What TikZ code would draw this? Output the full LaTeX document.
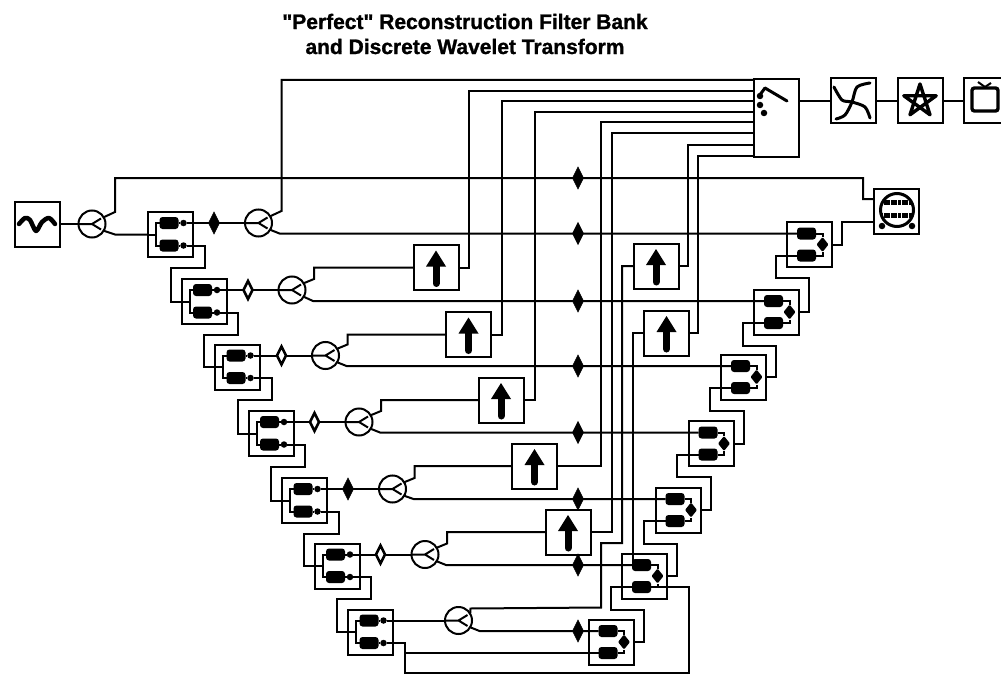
\documentclass[tikz,border=0pt]{standalone}
\usepackage{fontspec}
\newfontfamily\titlefont[BoldFeatures={FakeBold=1.2}]{Liberation Sans}
\usetikzlibrary{shapes.geometric, positioning, calc}
\tikzset{
  blockbox/.style={
    rectangle, draw=black, line width=2pt,
    minimum size=45pt, inner sep=0pt, outer sep=0pt,
  },
  muxbox/.style={
    blockbox, minimum width=45pt, minimum height=78pt,
  },
  forkcircle/.style={
    circle, draw=black, line width=2pt, fill=white,
    minimum size=27pt, inner sep=0pt, outer sep=0pt,
  },
  pill/.style={
    rectangle, rounded corners=3pt, fill=black,
    minimum width=19pt, minimum height=12pt, inner sep=0pt, outer sep=0pt,
  },
  smalldot/.style={
    circle, fill=black, minimum size=6.5pt, inner sep=0pt, outer sep=0pt,
  },
  delayfill/.style={
    diamond, fill=black, draw=black, line width=0.5pt, aspect=0.5,
    minimum width=11pt, minimum height=22pt, inner sep=0pt, outer sep=0pt,
  },
  delayopen/.style={
    delayfill, fill=white, line width=2.6pt,
    minimum width=9pt, minimum height=18pt,
  },
  sumdot/.style={
    diamond, fill=black, rounded corners=1pt, aspect=0.8,
    minimum width=12pt, minimum height=15pt, inner sep=0pt, outer sep=0pt,
  },
  wire/.style={line width=2pt, draw=black},
  iconline/.style={line width=3pt, draw=black, line cap=round, line join=round},
  headline/.style={align=center, font=\titlefont\fontsize{21}{25}\selectfont\bfseries},
}
\begin{document}
\begin{tikzpicture}[x=1pt, y=-1pt]
  \useasboundingbox (0,0) rectangle (1001,674);

  \node[headline] (title) at (465,34) {"Perfect" Reconstruction Filter Bank\\and Discrete Wavelet Transform};

  \node[blockbox] (src) at (37,224) {};
  \node[forkcircle] (c1) at (92,224) {};
  \node[muxbox] (mux) at (776.5,118) {};
  \node[blockbox] (curve) at (853,101) {};
  \node[blockbox, right=22pt of curve] (star) {};
  \node[blockbox, right=21pt of star] (tv) {};
  \node[blockbox] (scope) at (896.5,211) {};

  \foreach \k/\x/\y [evaluate=\k as \n using int(\k+1)] in {1/170.5/234.5,2/204/301.5,3/237.5/367,4/271/433.5,5/304.5/500.5,6/337/566,7/370.5/632} {
    \node[blockbox] (fb\k) at (\x,\y) {};
    \node[pill] (fb\k a) at (\x-1.5,\y-11.5) {};
    \node[pill] (fb\k b) at (\x-1.5,\y+11) {};
    \node[smalldot] (fb\k u) at (\x+13,\y-11.5) {};
    \node[smalldot] (fb\k v) at (\x+13,\y+11) {};
    \node[forkcircle] (c\n) at (\x+88,\y-11.5) {};
    \draw[wire] (fb\k.west) -- ++(8.5,0);
    \draw[wire] (fb\k a.west) -- ++(-3.5,0) |- (fb\k b.west);
    \draw[wire] (fb\k a.east) -- (fb\k u.west);
    \draw[wire] (fb\k b.east) -- (fb\k v.west);
    \draw[wire] (fb\k u.east) -- (c\n.west);
  }

  \foreach \k/\n/\x/\y in {1/2/204/301.5,2/3/237.5/367,3/4/271/433.5,4/5/304.5/500.5,5/6/337/566,6/7/370.5/632}
    \draw[wire] (fb\k v.east) -| ($(fb\k)+(34,33)$) -| (\x-33.5,\y) -- (fb\n.west);

  \foreach \k/\x/\y/\s in {1/214/223/delayfill,2/248/290/delayopen,3/281.5/355.5/delayopen,4/314.5/422/delayopen,5/348/489/delayfill,6/380.5/554.5/delayopen}
    \node[\s] (dl\k) at (\x,\y) {};

  \foreach \k in {1,...,8}
    \draw[wire] (c\k.west) -- (c\k.center) -- ([xshift=9pt,yshift=5.5pt]c\k.center) (c\k.center) -- ([xshift=9pt,yshift=-5.5pt]c\k.center);

  \foreach \k/\n/\x/\y/\mx/\my in {3/1/436/267.5/469/91,4/2/468.5/334.5/502/101,5/3/501/400/535/112,6/4/534.5/466/601/122,7/5/568/532/612/133} {
    \node[blockbox] (up\n) at (\x,\y) {};
    \draw[wire] (c\k.30) -- ($(c\k)+(22,-11)$) |- (up\n.west);
    \draw[wire] (up\n.east) -| (\mx,\my) -- (mux.west |- 0,\my);
  }
  \node[blockbox] (up6) at (656,266) {};
  \node[blockbox] (up7) at (666.5,333) {};
  \foreach \n in {1,...,7} {
    \fill ([yshift=17pt]up\n.center) -- ++(10,16) -- ++(-20,0) -- cycle;
    \draw[line width=7pt, line cap=round] ([yshift=2pt]up\n.center) -- ([yshift=-16pt]up\n.center);
  }

  \foreach \k/\n/\x/\y in {1/2/809.5/244.5,2/3/776.5/312,3/4/743.5/377,4/5/711/443.5,5/6/678/510,6/7/644.5/576,7/8/611/642} {
    \node[blockbox] (rb\k) at (\x,\y) {};
    \node[pill] (rb\k a) at (\x-3,\y-11) {};
    \node[pill] (rb\k b) at (\x-3,\y+11) {};
    \node[sumdot] (sum\k) at (\x+13,\y) {};
    \draw[wire] (rb\k a.east) -| (sum\k.north);
    \draw[wire] (rb\k b.east) -| (sum\k.south);
    \coordinate (bend\k) at ($(c\n)+(21,0)$);
    \draw[wire] (c\n.-30) -- (bend\k |- rb\k a.west) -- (rb\k a.west);
    \node[delayfill] (mid\k) at (578,\y-11) {};
  }

  \foreach \k/\n/\x/\y in {2/1/809.5/244.5,3/2/776.5/312,4/3/743.5/377,5/4/711/443.5,6/5/678/510,7/6/644.5/576}
    \draw[wire] (rb\k.east) -- ++(10,0) |- (\x-34,\y+33.5) |- (rb\n b.west);

  \draw[wire] (src.east) -- (c1.west);
  \draw[wire] (c1.-30) -- ($(c1)+(23,10.5)$) -- (fb1.west);
  \draw[wire] (c1.30) -- ($(c1)+(23,-12)$) |- (863,178) |- (scope.west |- 0,199);
  \node[delayfill] (mid0) at (578,178) {};
  \draw[wire] (rb1.east) -- ++(10,0) |- (scope.west |- 0,222);

  \draw[wire] (c2.30) -- ($(c2)+(23,-12)$) |- (mux.west |- 0,80);
  \draw[wire] (c8.30) -- ($(c8)+(12,-12)$) -- (601,607.5) -- (601,543) -- (622,543) |- (up6.west);
  \draw[wire] (up6.east) -| (688,145) -- (mux.west |- 0,145);
  \draw[wire] (up7.east) -| (698,156) -- (mux.west |- 0,156);
  \draw[wire] (up7.west) -| (633,565);

  \draw[wire] (fb7v.east) -- (405,643) -- (405,673) -- (689,673) -- (689,587) -- (612,587);
  \draw[wire] (405,653) -- (rb7b.west);

  \draw[wire] (mux.east |- curve.west) -- (curve.west);
  \draw[wire] (curve.east) -- (star.west);
  \draw[wire] (star.east) -- (tv.west);

  \draw[iconline, line width=4.5pt] plot[smooth] coordinates {(19,224) (25,218) (30,220) (36,231) (42,222) (49,218) (55,224)};

  \draw[iconline] (765,88) -- (787,101);
  \draw[iconline] (765,88) -- (759,96);
  \node[smalldot] (pin1) at (760,96) {};
  \node[smalldot] (pin2) at (760,105) {};
  \node[smalldot] (pin3) at (764,113) {};

  \draw[iconline] plot[smooth] coordinates {(834,87) (842,100) (852,102) (865,107) (870,118)};
  \draw[iconline] plot[smooth] coordinates {(870,83) (857,87) (852,102) (845,115) (836,119)};

  \draw[iconline, line cap=butt, line width=3.4pt] ([shift={(-90:17)}]star.center) -- ([shift={(54:17)}]star.center) -- ([shift={(198:17)}]star.center) -- ([shift={(342:17)}]star.center) -- ([shift={(126:17)}]star.center) -- cycle;

  \draw[line width=3.4pt, rounded corners=2.5pt] (972,88) rectangle (998,111);
  \draw[wire] (978,82) -- (985,87) -- (991,83);

  \draw[line width=3pt, fill=white] (897,210) circle (16.5);
  \begin{scope}
    \clip (897,210) circle (16.5);
    \draw[line width=5pt, dash pattern=on 3pt off 0.6pt] (880,202) -- (914,202);
    \draw[line width=5pt, dash pattern=on 3pt off 0.6pt] (880,215) -- (914,215);
  \end{scope}
  \node[smalldot] (knob1) at (882,226) {};
  \node[smalldot] (knob2) at (912,226) {};
\end{tikzpicture}
\end{document}
